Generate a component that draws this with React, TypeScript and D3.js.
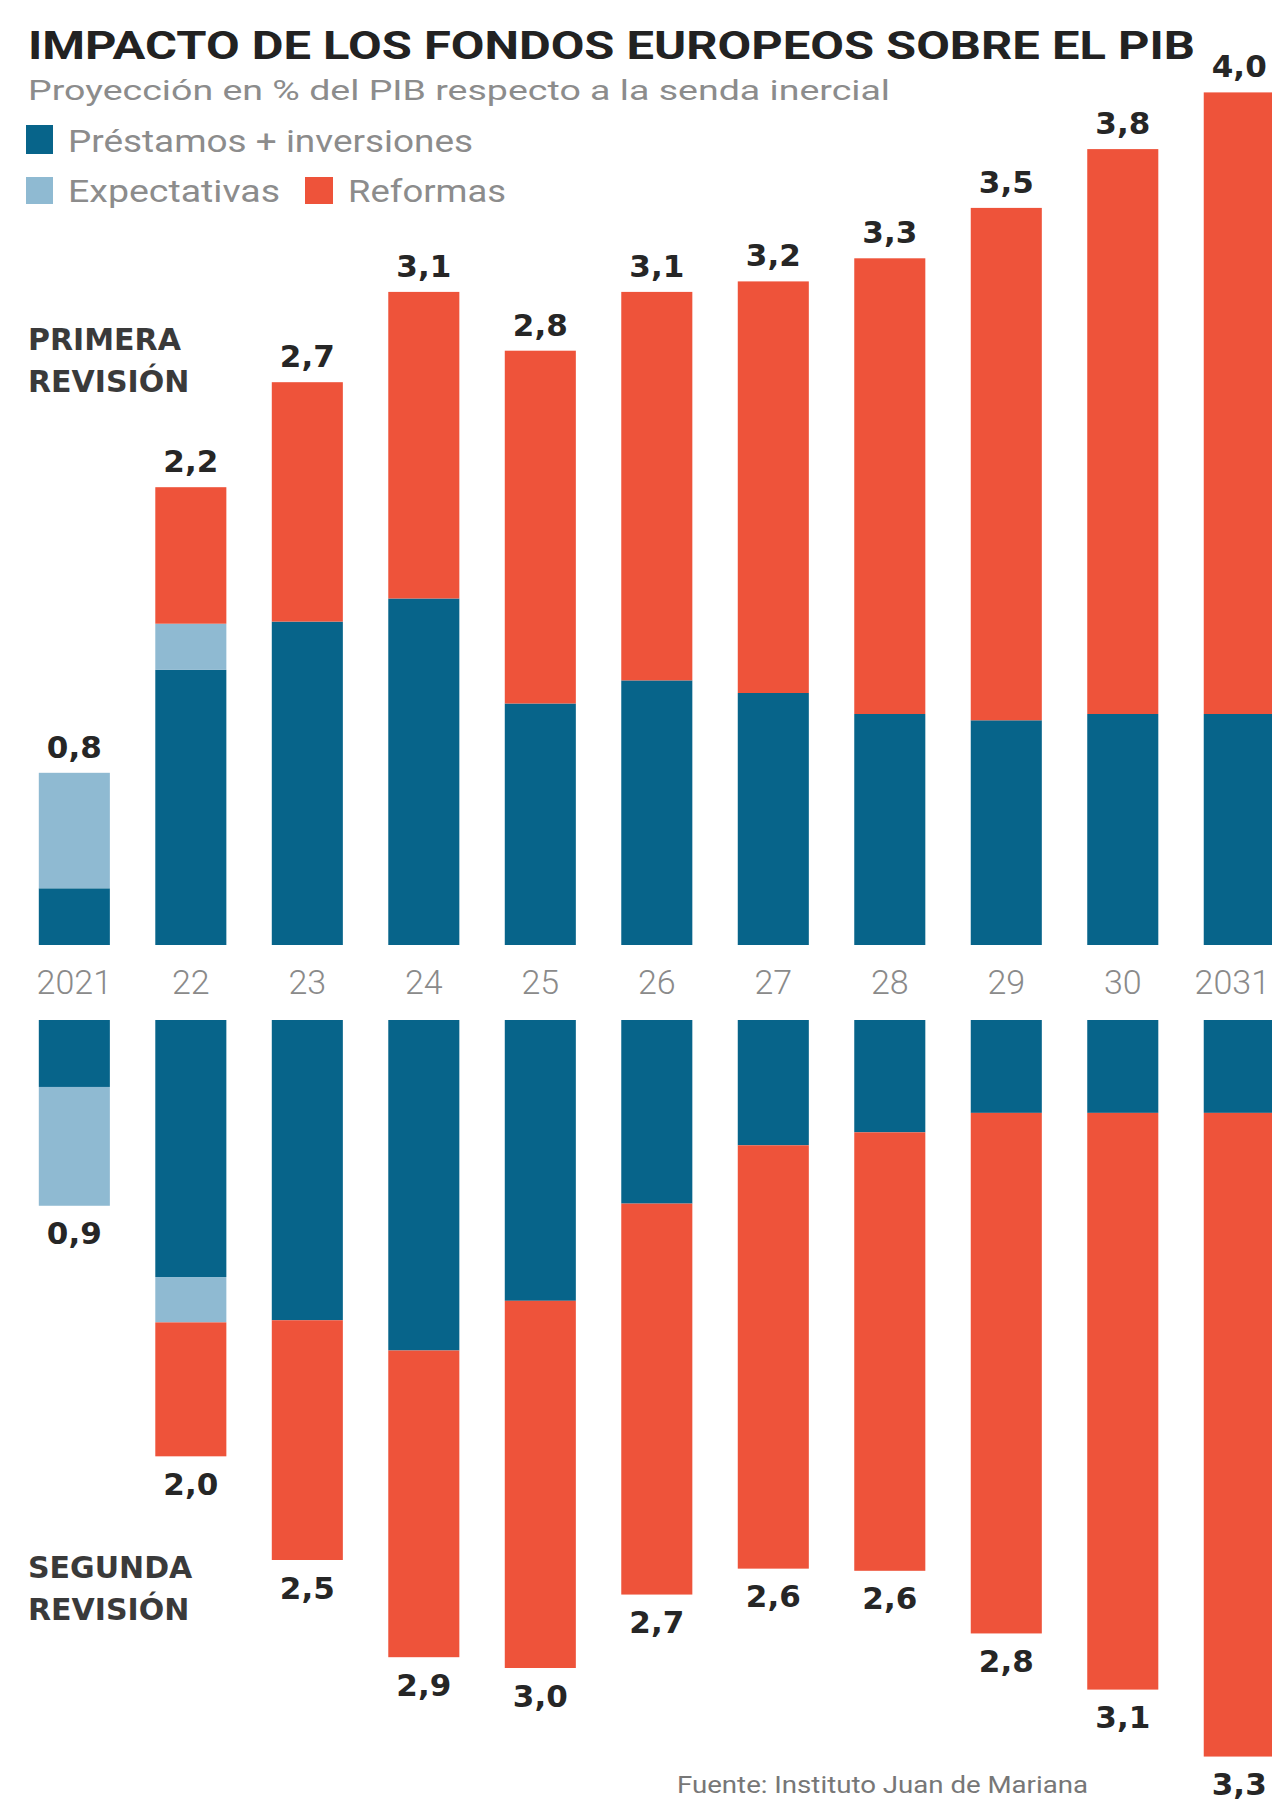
import React from "react";
import * as d3 from "d3";

// years on the axis
const years = ["2021", "22", "23", "24", "25", "26", "27", "28", "29", "30", "2031"];

// primera revisión, % del PIB
const primeraPrestamos = [0.27, 1.31, 1.54, 1.65, 1.15, 1.26, 1.2, 1.1, 1.07, 1.1, 1.1];
const primeraExpectativas = [0.55, 0.22, 0, 0, 0, 0, 0, 0, 0, 0, 0];
const primeraReformas = [0, 0.65, 1.14, 1.46, 1.68, 1.85, 1.96, 2.17, 2.44, 2.69, 2.96];
const primeraLabels = ["0,8", "2,2", "2,7", "3,1", "2,8", "3,1", "3,2", "3,3", "3,5", "3,8", "4,0"];

// segunda revisión
const segundaPrestamos = [0.31, 1.19, 1.39, 1.53, 1.3, 0.85, 0.58, 0.52, 0.43, 0.43, 0.43];
const segundaExpectativas = [0.55, 0.21, 0, 0, 0, 0, 0, 0, 0, 0, 0];
const segundaReformas = [0, 0.62, 1.11, 1.42, 1.7, 1.81, 1.96, 2.03, 2.41, 2.67, 2.98];
const segundaLabels = ["0,9", "2,0", "2,5", "2,9", "3,0", "2,7", "2,6", "2,6", "2,8", "3,1", "3,3"];

const keys = ["prestamos", "expectativas", "reformas"];
const legendNames = ["Préstamos + inversiones", "Expectativas", "Reformas"];
const colors = { prestamos: "#07648a", expectativas: "#8fbad2", reformas: "#ee533a" };

const W = 1272;
const H = 1802;

const sans = "Roboto, 'Open Sans', sans-serif";
const bold = "'DejaVu Sans', Verdana, sans-serif";

function toRows(p: number[], e: number[], r: number[]) {
  return years.map((year, i) => ({ year, prestamos: p[i], expectativas: e[i], reformas: r[i] }));
}

export default function App() {
  const x = d3.scaleBand().domain(years).range([38.8, 1274.8]).paddingInner(0.39).paddingOuter(0);

  // the two halves were drawn at slightly different scales in the original
  const yTop = d3.scaleLinear().domain([0, 4]).range([945, 945 - 4 * 210]);
  const yBot = d3.scaleLinear().domain([0, 3.3]).range([1020, 1020 + 3.3 * 216]);

  const stack = d3.stack<any>().keys(keys);
  const topLayers = stack(toRows(primeraPrestamos, primeraExpectativas, primeraReformas));
  const botLayers = stack(toRows(segundaPrestamos, segundaExpectativas, segundaReformas));

  const topTotals = topLayers[topLayers.length - 1].map((d) => d[1]);
  const botTotals = botLayers[botLayers.length - 1].map((d) => d[1]);

  const bw = x.bandwidth();

  return (
    <>
      <style>{"body{margin:0;background:#fff}"}</style>
      <svg width={W} height={H} style={{ display: "block" }}>
        <rect width={W} height={H} fill="#fff" />

        {/* title block */}
        <text x={28} y={59} fontFamily={sans} fontWeight={700} fontSize={38} fill="#222"
          textLength={1167} lengthAdjust="spacingAndGlyphs">
          IMPACTO DE LOS FONDOS EUROPEOS SOBRE EL PIB
        </text>
        <text x={28} y={100} fontFamily={sans} fontSize={27} fill="#8c8c8c"
          textLength={862} lengthAdjust="spacingAndGlyphs">
          Proyección en % del PIB respecto a la senda inercial
        </text>

        {/* legend */}
        <rect x={26} y={125} width={27} height={29} fill={colors.prestamos} />
        <text x={68} y={151.5} fontFamily={sans} fontSize={32} fill="#8c8c8c"
          textLength={405} lengthAdjust="spacingAndGlyphs">{legendNames[0]}</text>
        <rect x={26} y={177} width={27} height={27} fill={colors.expectativas} />
        <text x={68} y={202} fontFamily={sans} fontSize={32} fill="#8c8c8c"
          textLength={212} lengthAdjust="spacingAndGlyphs">{legendNames[1]}</text>
        <rect x={305} y={177} width={28} height={27} fill={colors.reformas} />
        <text x={348} y={202} fontFamily={sans} fontSize={32} fill="#8c8c8c"
          textLength={158} lengthAdjust="spacingAndGlyphs">{legendNames[2]}</text>

        {/* section labels */}
        <g fontFamily={bold} fontWeight={700} fontSize={30} fill="#3a3a3a">
          <text x={28} y={350}>PRIMERA</text>
          <text x={28} y={392}>REVISIÓN</text>
          <text x={28} y={1578}>SEGUNDA</text>
          <text x={28} y={1619.5}>REVISIÓN</text>
        </g>

        {/* top bars */}
        {topLayers.map((layer) => (
          <g key={"t" + layer.key} fill={colors[layer.key]}>
            {layer.map((d, i) =>
              d[1] - d[0] > 0 ? (
                <rect key={i} x={x(years[i])} width={bw} y={yTop(d[1])} height={yTop(d[0]) - yTop(d[1])} />
              ) : null
            )}
          </g>
        ))}

        {/* bottom bars */}
        {botLayers.map((layer) => (
          <g key={"b" + layer.key} fill={colors[layer.key]}>
            {layer.map((d, i) =>
              d[1] - d[0] > 0 ? (
                <rect key={i} x={x(years[i])} width={bw} y={yBot(d[0])} height={yBot(d[1]) - yBot(d[0])} />
              ) : null
            )}
          </g>
        ))}

        {/* year axis between the halves; last one pinned inside the right edge */}
        {years.map((yr, i) => {
          const last = i === years.length - 1;
          return (
            <text key={"y" + yr} x={last ? W - 2 : x(yr)! + bw / 2} y={994}
              textAnchor={last ? "end" : "middle"}
              fontFamily={sans} fontWeight={300} fontSize={34} fill="#8a8a8a">
              {yr}
            </text>
          );
        })}

        {/* value labels */}
        <g fontFamily={bold} fontWeight={700} fontSize={31} fill="#262626" textAnchor="middle">
          {topTotals.map((t, i) => (
            <text key={"tl" + i} x={x(years[i])! + bw / 2} y={yTop(t) - 15}>{primeraLabels[i]}</text>
          ))}
          {botTotals.map((t, i) => (
            <text key={"bl" + i} x={x(years[i])! + bw / 2} y={yBot(t) + 38.5}>{segundaLabels[i]}</text>
          ))}
        </g>

        <text x={677} y={1793} fontFamily={sans} fontSize={24} fill="#777"
          textLength={411} lengthAdjust="spacingAndGlyphs">
          Fuente: Instituto Juan de Mariana
        </text>
      </svg>
    </>
  );
}
